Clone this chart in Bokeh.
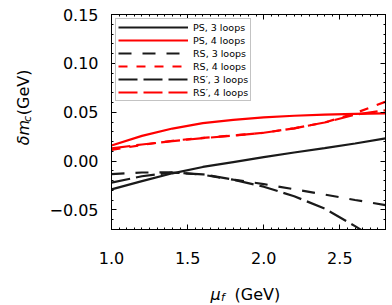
import math
from bokeh.plotting import figure
from bokeh.models import (Range1d, FixedTicker, LinearAxis, Label, CustomJSTickFormatter, Legend)
from bokeh.layouts import row, column
from bokeh.embed import file_html
from bokeh.resources import INLINE

# ---- data ----
mu = [1.0, 1.2, 1.4, 1.6, 1.8, 2.0, 2.2, 2.4, 2.6, 2.8]
ps3 = [-0.0290, -0.0205, -0.0125, -0.0060, -0.0010, 0.0040, 0.0088, 0.0132, 0.0180, 0.0232]
ps4 = [0.0160, 0.0258, 0.0333, 0.0388, 0.0422, 0.0447, 0.0464, 0.0476, 0.0484, 0.0488]
rs3 = [-0.0133, -0.0117, -0.0115, -0.0140, -0.0190, -0.0235, -0.0288, -0.0342, -0.0398, -0.0450]
rs4 = [0.0115, 0.0165, 0.0208, 0.0238, 0.0262, 0.0290, 0.0335, 0.0395, 0.0490, 0.0607]
rsp3 = [-0.0220, -0.0155, -0.0118, -0.0135, -0.0190, -0.0262, -0.0360, -0.0485, -0.0665, -0.0860]
rsp4 = [0.0130, 0.0170, 0.0205, 0.0235, 0.0260, 0.0290, 0.0335, 0.0395, 0.0475, 0.0520]

labels = ["PS, 3 loops", "PS, 4 loops", "RS, 3 loops", "RS, 4 loops", "RS\u2032, 3 loops", "RS\u2032, 4 loops"]

x_major = [1.0, 1.5, 2.0, 2.5]
x_minor = [round(1.0 + 0.05 * i, 2) for i in range(37)]
y_major = [-0.05, 0.0, 0.05, 0.10, 0.15]
y_minor = [round(-0.07 + 0.01 * i, 2) for i in range(23)]

FONT = "DejaVu Sans"
W, H = 392, 305
YLW = 44          # width of the strip holding the y title
XLH = 30          # height of the strip holding the x title
MW, MH = W - YLW, H - XLH
X0, X1, Y0, Y1 = 1.0, 2.8, -0.07, 0.15

p = figure(width=MW, height=MH, output_backend="svg", toolbar_location=None,
           x_range=Range1d(X0, X1), y_range=Range1d(Y0, Y1),
           min_border_left=111 - YLW, min_border_right=7, min_border_top=14,
           min_border_bottom=MH - 229,
           x_axis_type=None, y_axis_type=None)
p.grid.visible = False
p.outline_line_color = "black"
p.outline_line_width = 1
p.background_fill_color = "white"
p.border_fill_color = "white"

fmt = CustomJSTickFormatter(code="""
if (Math.abs(tick) < 1e-9) { return "0.00"; }
return tick < 0 ? "\\u2212" + Math.abs(tick).toFixed(2) : tick.toFixed(2);
""")
xfmt = CustomJSTickFormatter(code="return tick.toFixed(1);")
blank = CustomJSTickFormatter(code="return '';")

def style_axis(ax, show_labels):
    ax.axis_line_color = "black"
    ax.axis_line_width = 1
    ax.major_tick_in = 5
    ax.major_tick_out = 0
    ax.minor_tick_in = 2
    ax.minor_tick_out = 0
    ax.major_tick_line_color = "black"
    ax.minor_tick_line_color = "black"
    ax.major_label_text_font = FONT
    ax.major_label_text_color = "black"
    if show_labels:
        ax.major_label_text_font_size = "16px"
    else:
        ax.major_label_text_font_size = "0px"
        ax.major_label_standoff = 0

xb = LinearAxis(ticker=FixedTicker(ticks=x_major, minor_ticks=x_minor), formatter=xfmt)
style_axis(xb, True)
xb.major_label_standoff = 22
p.add_layout(xb, "below")

xt = LinearAxis(ticker=FixedTicker(ticks=x_major, minor_ticks=x_minor), formatter=blank)
style_axis(xt, False)
p.add_layout(xt, "above")

yl = LinearAxis(ticker=FixedTicker(ticks=y_major, minor_ticks=y_minor), formatter=fmt)
style_axis(yl, True)
yl.major_label_standoff = 13
p.add_layout(yl, "left")

yr = LinearAxis(ticker=FixedTicker(ticks=y_major, minor_ticks=y_minor), formatter=blank)
style_axis(yr, False)
p.add_layout(yr, "right")

BLACK = "#1a1a1a"
RED = "#ff0000"
series = [
    (ps3, BLACK, "solid"),
    (ps4, RED, "solid"),
    (rs3, BLACK, "13 11"),
    (rs4, RED, "9 9"),
    (rsp3, BLACK, "19 6"),
    (rsp4, RED, "19 6"),
]
items = []
for (ys, col, dash), lab_ in zip(series, labels):
    r = p.line(mu, ys, line_color=col, line_width=2.2, line_dash=dash)
    items.append((lab_, [r]))

leg = Legend(items=items, location="top_left", margin=4, padding=2, spacing=1,
             glyph_width=70, glyph_height=12, label_height=12, label_standoff=5,
             label_text_font=FONT, label_text_font_size="9.5px", label_text_color="black",
             border_line_color="#888888", border_line_width=1,
             background_fill_color="white", background_fill_alpha=1.0)
p.add_layout(leg, "center")

# ---- strips holding the composed (math-style) axis titles ----
def strip(w, h):
    f = figure(width=w, height=h, output_backend="svg", toolbar_location=None,
               x_range=Range1d(0, w), y_range=Range1d(0, h),
               min_border_left=0, min_border_right=0, min_border_top=0, min_border_bottom=0,
               x_axis_type=None, y_axis_type=None)
    f.grid.visible = False
    f.outline_line_color = None
    f.background_fill_color = "white"
    f.border_fill_color = "white"
    return f

def lab(f, text, x, y, size, style="normal", angle=0.0, align="left"):
    f.add_layout(Label(x=x, y=y, text=text,
                       text_font=FONT, text_font_size=size, text_font_style=style,
                       text_color="black", angle=angle, text_align=align,
                       text_baseline="alphabetic"))

# y title: delta m_c (GeV)   (strip coords: x = page px, y = MH - page px)
ys_ = strip(YLW, MH)
ang = math.pi / 2
lab(ys_, "\u03b4m", 23, MH - 151, "16px", "italic", angle=ang, align="center")
lab(ys_, "c", 27, MH - 133.5, "11px", "italic", angle=ang, align="center")
lab(ys_, "(GeV)", 23, MH - 99.5, "16px", angle=ang, align="center")

# x title: mu_f (GeV)   (strip coords: x = page px, y = H - page px)
xs_ = strip(W, XLH)
lab(xs_, "\u03bc", 210, H - 294, "16px", "italic")
lab(xs_, "f", 220.5, H - 297, "11px", "italic")
lab(xs_, "(GeV)", 234, H - 294, "16px")

layout = column(row(ys_, p, spacing=0), xs_, spacing=0)
open("out.html", "w").write(file_html(layout, INLINE))
